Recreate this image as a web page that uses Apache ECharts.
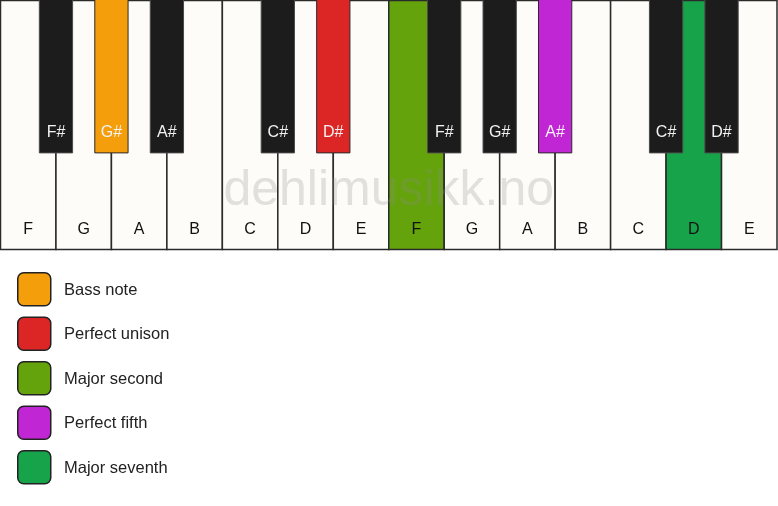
<!DOCTYPE html>
<html><head><meta charset="utf-8">
<script src="https://cdn.jsdelivr.net/npm/echarts@6/dist/echarts.min.js"></script>
<style>html,body{margin:0;padding:0;background:#fff}#c{width:778px;height:506px}</style>
</head><body><div id="c"></div>
<script>
// Data
const whiteNotes = ['F','G','A','B','C','D','E','F','G','A','B','C','D','E'];
const whiteRoles = [null,null,null,null,null,null,null,'Major second',null,null,null,null,'Major seventh',null];
const blackNotes = ['F#','G#','A#','C#','D#','F#','G#','A#','C#','D#'];
const blackPositions = [1,2,3,5,6,8,9,10,12,13]; // boundary index between white keys
const blackRoles = [null,'Bass note',null,null,'Perfect unison',null,null,'Perfect fifth',null,null];
const legendNames = ['Bass note','Perfect unison','Major second','Perfect fifth','Major seventh'];
const legendColors = ['#F59E0B','#DC2626','#65A30D','#C026D3','#16A34A'];

const roleColor = {};
legendNames.forEach((n,i)=>roleColor[n]=legendColors[i]);

const FONT = 'Liberation Sans, Arial, sans-serif';
const chart = echarts.init(document.getElementById('c'));

const whiteData = whiteNotes.map((n,i)=>[i, n, whiteRoles[i]]);
const blackData = blackNotes.map((n,i)=>[blackPositions[i], n, blackRoles[i]]);
const BLACK_W = 0.6, BLACK_H = 0.612;

const graphics = [];
legendNames.forEach((n,i)=>{
  const top = 272 + i*44.5;
  graphics.push({type:'rect', left:17, top:top, shape:{width:33, height:33, r:6},
    style:{fill:legendColors[i], stroke:'#222', lineWidth:1.5}});
  graphics.push({type:'text', x:64, y:top+18, style:{text:n, font:'16.5px '+FONT, fill:'#222', verticalAlign:'middle'}});
});

chart.setOption({
  animation:false,
  grid:{left:0.5, top:0.5, width:776.5, height:249},
  xAxis:{type:'value', min:0, max:14, show:false},
  yAxis:{type:'value', min:0, max:1, inverse:true, show:false},
  graphic: graphics,
  series:[
    {
      type:'custom', data: whiteData, z:1,
      renderItem:(params, api)=>{
        const i = api.value(0);
        const d = whiteData[params.dataIndex];
        const p0 = api.coord([i,0]), p1 = api.coord([i+1,1]);
        const fill = d[2] ? roleColor[d[2]] : '#FDFCF9';
        const lp = api.coord([i+0.5, 0.92]);
        return {type:'group', children:[
          {type:'rect', shape:{x:p0[0], y:p0[1], width:p1[0]-p0[0], height:p1[1]-p0[1]},
           style:{fill:fill, stroke:'#2a2a2a', lineWidth:1.5}},
          {type:'text', x:lp[0], y:lp[1], style:{text:d[1], font:'16px '+FONT, fill:'#111', align:'center', verticalAlign:'middle'}}
        ]};
      }
    },
    {
      type:'custom', data: blackData, z:3,
      renderItem:(params, api)=>{
        const b = api.value(0);
        const d = blackData[params.dataIndex];
        const p0 = api.coord([b-BLACK_W/2,0]), p1 = api.coord([b+BLACK_W/2,BLACK_H]);
        const fill = d[2] ? roleColor[d[2]] : '#1C1C1C';
        const lp = api.coord([b, 0.532]);
        return {type:'group', children:[
          {type:'rect', shape:{x:p0[0], y:p0[1]-1, width:p1[0]-p0[0], height:p1[1]-p0[1]+1},
           style:{fill:fill, stroke: d[2] ? '#2a2a2a' : '#4a4a4a', lineWidth:1}},
          {type:'text', x:lp[0], y:lp[1], style:{text:d[1], font:'16px '+FONT, fill:'#F2F2F2', align:'center', verticalAlign:'middle'}}
        ]};
      }
    },
    {
      type:'custom', data:[[7,0.764]], z:2, silent:true,
      renderItem:(params, api)=>{
        const p = api.coord([api.value(0), api.value(1)]);
        return {type:'text', x:p[0], y:p[1], style:{text:'dehlimusikk.no', font:'50px '+FONT, fill:'rgba(140,140,140,0.25)', align:'center', verticalAlign:'middle'}};
      }
    }
  ]
});
</script></body></html>
